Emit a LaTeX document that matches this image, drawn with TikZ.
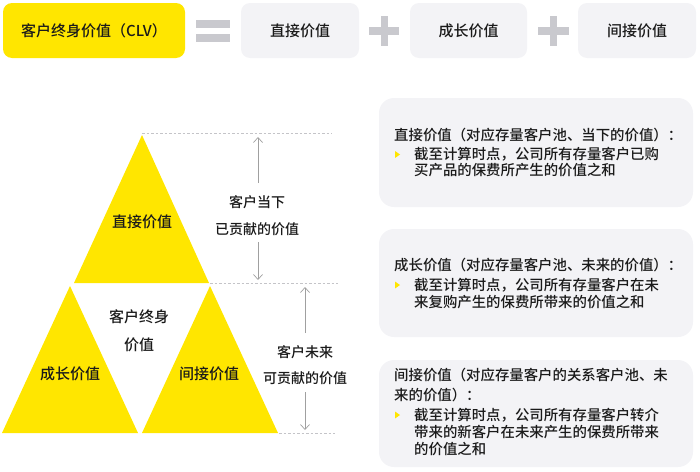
\documentclass[tikz,border=0pt]{standalone}
\usepackage{fontspec}
\setmainfont{Noto Sans CJK SC}[UprightFont={* Medium}]
\usetikzlibrary{arrows.meta}
\definecolor{yel}{HTML}{FFE600}
\definecolor{boxgray}{HTML}{F3F3F6}
\definecolor{signgray}{HTML}{C9C9CE}
\definecolor{dashgray}{HTML}{C4C4C8}
\definecolor{arrgray}{HTML}{A0A0A0}
\definecolor{txt}{HTML}{1A1A1A}
\tikzset{
  tri/.style={fill=yel, draw=none},
  topbox/.style={fill=boxgray, draw=none, rounded corners=9pt},
  infobox/.style={fill=boxgray, draw=none, rounded corners=15pt},
  sign/.style={fill=signgray, draw=none},
  lbl/.style={font=\fontsize{15}{18}\selectfont, text=txt, inner sep=0pt},
  sidelbl/.style={font=\fontsize{14}{17}\selectfont, text=txt, inner sep=0pt},
  info/.style={font=\fontsize{14.4}{17}\selectfont, text=txt, inner sep=0pt, anchor=west},
  guide/.style={draw=dashgray, line width=0.8pt, dash pattern=on 2.5pt off 2pt},
  arr/.style={draw=arrgray, line width=0.7pt, -{Straight Barb[length=5pt,width=9pt]}},
  bullet/.style={fill=yel, draw=none}
}
\begin{document}
\begin{tikzpicture}[x=1pt,y=-1pt]
\useasboundingbox (0,0) rectangle (700,471);
% ---------- top row ----------
\fill[yel, rounded corners=9pt] (3,3) rectangle (185,58);
\node[lbl] (clv) at (94,30.5) {客户终身价值（CLV）};
\fill[sign] (196,20) rectangle (230,27.5);
\fill[sign] (196,34) rectangle (230,41.5);
\fill[topbox] (241,3) rectangle (359,58);
\node[lbl] (dv) at (300,30.5) {直接价值};
\fill[sign] (369,27) rectangle (399,34.5);
\fill[sign] (380.5,16) rectangle (388,45.5);
\fill[topbox] (410,3) rectangle (527,58);
\node[lbl] (gv) at (468.5,30.5) {成长价值};
\fill[sign] (538,27) rectangle (569,34.5);
\fill[sign] (549.5,16) rectangle (557,45.5);
\fill[topbox] (578,3) rectangle (696,58);
\node[lbl] (iv) at (637,30.5) {间接价值};
% ---------- triangles ----------
\fill[tri] (142,135) -- (209,283) -- (74,283) -- cycle;
\fill[tri] (70,286) -- (138,433) -- (2,433) -- cycle;
\fill[tri] (210,286) -- (278,433) -- (142,433) -- cycle;
\node[lbl] (t1) at (142,222) {直接价值};
\node[lbl] (t2) at (70,374) {成长价值};
\node[lbl] (t3) at (209,374) {间接价值};
\node[lbl] (c1) at (139,317) {客户终身};
\node[lbl] (c2) at (139,345) {价值};
% ---------- guides ----------
\coordinate (g1a) at (142,133); \coordinate (g1b) at (332,133);
\coordinate (g2a) at (210,283); \coordinate (g2b) at (338,283);
\coordinate (g3a) at (279,433); \coordinate (g3b) at (335,433);
\draw[guide] (g1a) -- (g1b);
\draw[guide] (g2a) -- (g2b);
\draw[guide] (g3a) -- (g3b);
% ---------- arrows ----------
\node[sidelbl] (s1) at (257,202) {客户当下};
\node[sidelbl] (s2) at (257,229) {已贡献的价值};
\coordinate (a1t) at (258,137); \coordinate (a1u) at (258,183);
\coordinate (a1l) at (258,242); \coordinate (a1b) at (258,280);
\draw[arr] (a1u) -- (a1t);
\draw[arr] (a1l) -- (a1b);
\node[sidelbl] (s3) at (305,352) {客户未来};
\node[sidelbl] (s4) at (305,378) {可贡献的价值};
\coordinate (a2t) at (305,287); \coordinate (a2u) at (305,333);
\coordinate (a2l) at (305,392); \coordinate (a2b) at (305,430);
\draw[arr] (a2u) -- (a2t);
\draw[arr] (a2l) -- (a2b);
% ---------- info boxes ----------
\fill[infobox] (379,98) rectangle (693,207);
\fill[infobox] (379,229) rectangle (693,337);
\fill[infobox] (379,360) rectangle (693,467);
% box 1
\node[info] (b1t) at (394,135) {直接价值（对应存量客户池、当下的价值）：};
\fill[bullet] (395,151) -- (400,154.5) -- (395,158) -- cycle;
\node[info] (b1a) at (414,154.5) {截至计算时点，公司所有存量客户已购};
\node[info] (b1b) at (414,170.5) {买产品的保费所产生的价值之和};
% box 2
\node[info] (b2t) at (394,265) {成长价值（对应存量客户池、未来的价值）：};
\fill[bullet] (395,281.5) -- (400,285) -- (395,288.5) -- cycle;
\node[info] (b2a) at (414,285) {截至计算时点，公司所有存量客户在未};
\node[info] (b2b) at (414,302) {来复购产生的保费所带来的价值之和};
% box 3
\node[info] (b3t) at (394,375) {间接价值（对应存量客户的关系客户池、未};
\node[info] (b3u) at (394,395) {来的价值）：};
\fill[bullet] (395,411.5) -- (400,415) -- (395,418.5) -- cycle;
\node[info] (b3a) at (414,415) {截至计算时点，公司所有存量客户转介};
\node[info] (b3b) at (414,432) {带来的新客户在未来产生的保费所带来};
\node[info] (b3c) at (414,449) {的价值之和};
\end{tikzpicture}
\end{document}
